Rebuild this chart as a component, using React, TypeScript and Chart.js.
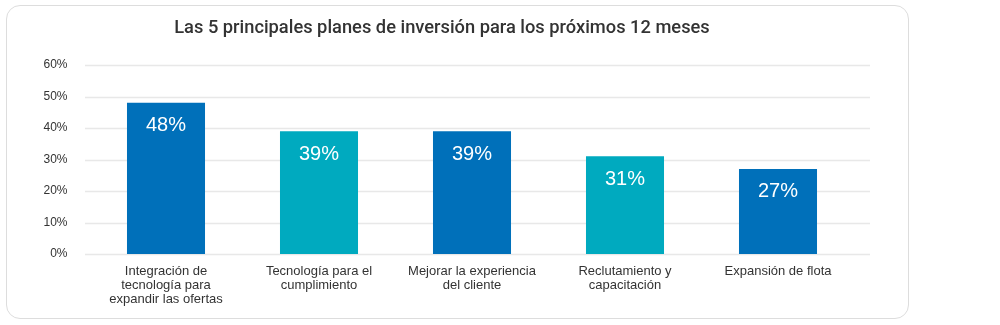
import React, { useEffect, useRef } from "react";
import { Chart, registerables } from "chart.js";

Chart.register(...registerables);

const title = "Las 5 principales planes de inversión para los próximos 12 meses";
const categories: string[][] = [
  ["Integración de", "tecnología para", "expandir las ofertas"],
  ["Tecnología para el", "cumplimiento"],
  ["Mejorar la experiencia", "del cliente"],
  ["Reclutamiento y", "capacitación"],
  ["Expansión de flota"],
];
const values = [48, 39, 39, 31, 27];
const barColors = ["#0070BA", "#00AABF", "#0070BA", "#00AABF", "#0070BA"];
const yTicks = [0, 10, 20, 30, 40, 50, 60];

const FONT = "'Liberation Sans', Arial, sans-serif";

export default function App() {
  const ref = useRef<HTMLCanvasElement | null>(null);

  useEffect(() => {
    if (!ref.current) return;

    const gridPlugin = {
      id: "extGrid",
      beforeDatasetsDraw(chart: any) {
        const { ctx } = chart;
        const y = chart.scales.y;
        ctx.save();
        ctx.strokeStyle = "#e8e8e8";
        ctx.lineWidth = 1.5;
        yTicks.forEach((t) => {
          const py = Math.round(y.getPixelForValue(t)) + 0.5;
          ctx.beginPath();
          ctx.moveTo(85, py);
          ctx.lineTo(870, py);
          ctx.stroke();
        });
        ctx.restore();
      },
    };

    const labelPlugin = {
      id: "barLabels",
      afterDatasetsDraw(chart: any) {
        const { ctx } = chart;
        const meta = chart.getDatasetMeta(0);
        ctx.save();
        ctx.fillStyle = "#ffffff";
        ctx.font = `20px ${FONT}`;
        ctx.textAlign = "center";
        ctx.textBaseline = "middle";
        meta.data.forEach((bar: any, i: number) => {
          ctx.fillText(values[i] + "%", bar.x, bar.y + 23);
        });
        ctx.restore();
      },
    };

    const chart = new Chart(ref.current, {
      type: "bar",
      data: {
        labels: categories,
        datasets: [
          {
            data: values,
            backgroundColor: barColors,
            borderWidth: 0,
            barPercentage: 1,
            categoryPercentage: 0.51,
          },
        ],
      },
      options: {
        animation: false,
        responsive: false,
        maintainAspectRatio: false,
        layout: { padding: { top: 65, right: 145.5, bottom: 0, left: 0 } },
        plugins: {
          legend: { display: false },
          tooltip: { enabled: false },
          title: { display: false },
        },
        scales: {
          x: {
            grid: { display: false },
            border: { display: false },
            ticks: {
              color: "#333333",
              font: { family: FONT, size: 13, lineHeight: 1.1 },
              padding: 2,
              maxRotation: 0,
              autoSkip: false,
            },
            afterFit(scale: any) {
              scale.height = 71;
            },
          },
          y: {
            min: 0,
            max: 60,
            grid: { display: false },
            border: { display: false },
            afterBuildTicks(scale: any) {
              scale.ticks = yTicks.map((v) => ({ value: v }));
            },
            ticks: {
              color: "#333333",
              font: { family: FONT, size: 12 },
              padding: 14,
              callback: (v: any) => v + "%",
            },
            afterFit(scale: any) {
              scale.width = 89.5;
            },
          },
        },
      },
      plugins: [gridPlugin, labelPlugin],
    } as any);

    return () => chart.destroy();
  }, []);

  return (
    <div style={{ position: "absolute", left: 0, top: 0, width: 1000, height: 325, background: "#fff" }}>
      <div
        style={{
          position: "absolute",
          left: 6,
          top: 5,
          width: 903,
          height: 314,
          border: "1px solid #dddddd",
          borderRadius: 14,
          boxSizing: "border-box",
        }}
      />
      <canvas ref={ref} width={1000} height={325} style={{ position: "absolute", left: 0, top: 0 }} />
      <div
        style={{
          position: "absolute",
          left: 92,
          top: 17,
          width: 700,
          textAlign: "center",
          fontFamily: "Roboto, 'Liberation Sans', sans-serif",
          fontWeight: 500,
          fontSize: 18.3,
          lineHeight: "20px",
          color: "#333333",
          whiteSpace: "nowrap",
        }}
      >
        {title}
      </div>
    </div>
  );
}
